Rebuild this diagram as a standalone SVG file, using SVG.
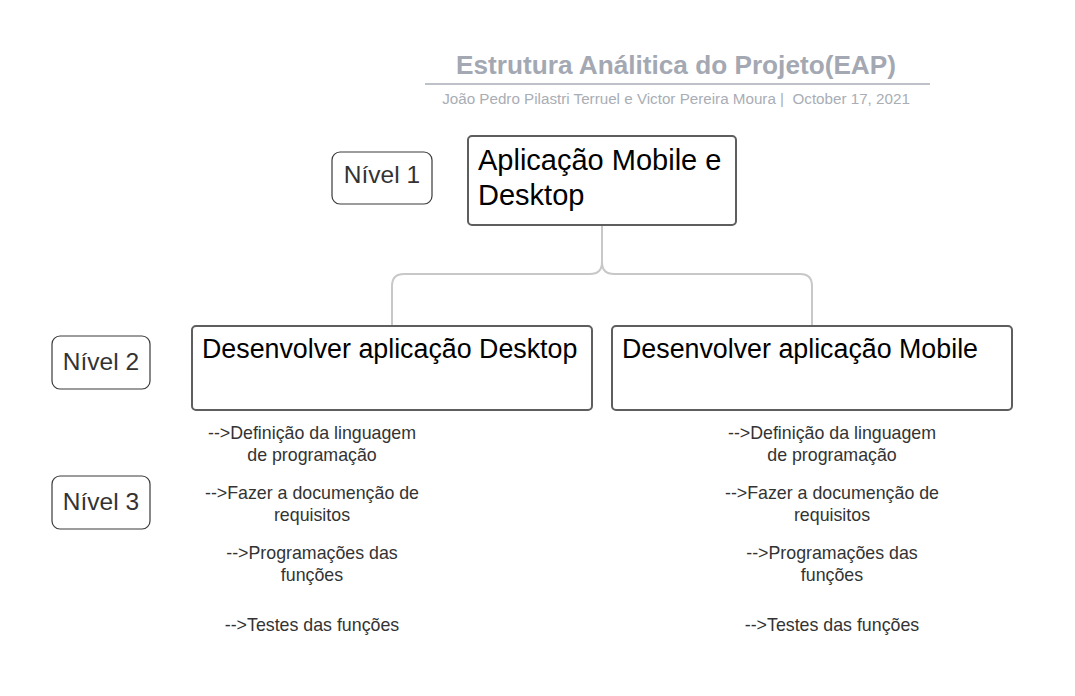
<svg xmlns="http://www.w3.org/2000/svg" width="1075" height="696" viewBox="0 0 1075 696">
<style>
text{font-family:"Liberation Sans",Arial,sans-serif}
.lvl{fill:#fff;stroke:#3a3a3a;stroke-width:1.2}
.lvlt{font-size:24.5px;fill:#333;text-anchor:middle}
.box{fill:#fff;stroke:#5e5e5e;stroke-width:2}
.boxt{font-size:29px;fill:#000}
.box2t{font-size:26.8px;fill:#000}
.item{font-size:17.8px;fill:#333;text-anchor:middle}
.conn{fill:none;stroke:#c8c8c8;stroke-width:2}
</style>
<rect width="1075" height="696" fill="#fff"/>
<g id="header">
<text x="676" y="74" font-size="26.2" font-weight="bold" fill="#a3a8b2" text-anchor="middle">Estrutura Análitica do Projeto(EAP)</text>
<line x1="425" y1="84" x2="930" y2="84" stroke="#a9adb5" stroke-width="1.5"/>
<text x="676" y="104" font-size="15.2" fill="#a9adb5" text-anchor="middle">João Pedro Pilastri Terruel e Victor Pereira Moura |&#160; October 17, 2021</text>
</g>
<g id="connectors">
<path class="conn" d="M602 226 V262 Q602 274 590 274 H404 Q392 274 392 286 V326"/>
<path class="conn" d="M602 262 Q602 274 614 274 H800 Q812 274 812 286 V326"/>
</g>
<g id="nivel1">
<rect class="lvl" x="332" y="152" width="100" height="52" rx="8"/>
<text class="lvlt" x="382" y="183">Nível 1</text>
</g>
<g id="nivel2">
<rect class="lvl" x="52" y="336" width="98" height="53" rx="8"/>
<text class="lvlt" x="101" y="370">Nível 2</text>
</g>
<g id="nivel3">
<rect class="lvl" x="52" y="476" width="98" height="53" rx="8"/>
<text class="lvlt" x="101" y="510">Nível 3</text>
</g>
<g id="root">
<rect class="box" x="468" y="136" width="268" height="89" rx="4"/>
<text class="boxt" x="478" y="170">Aplicação Mobile e</text>
<text class="boxt" x="478" y="205">Desktop</text>
</g>
<g id="desktop">
<rect class="box" x="192" y="326" width="400" height="84" rx="4"/>
<text class="box2t" x="202" y="358">Desenvolver aplicação Desktop</text>
</g>
<g id="mobile">
<rect class="box" x="612" y="326" width="400" height="84" rx="4"/>
<text class="box2t" x="622" y="358">Desenvolver aplicação Mobile</text>
</g>
<g id="desktop-tasks">
<text class="item" x="312" y="439">--&gt;Definição da linguagem</text>
<text class="item" x="312" y="461">de programação</text>
<text class="item" x="312" y="499">--&gt;Fazer a documenção de</text>
<text class="item" x="312" y="521">requisitos</text>
<text class="item" x="312" y="559">--&gt;Programações das</text>
<text class="item" x="312" y="581">funções</text>
<text class="item" x="312" y="631">--&gt;Testes das funções</text>
</g>
<g id="mobile-tasks">
<text class="item" x="832" y="439">--&gt;Definição da linguagem</text>
<text class="item" x="832" y="461">de programação</text>
<text class="item" x="832" y="499">--&gt;Fazer a documenção de</text>
<text class="item" x="832" y="521">requisitos</text>
<text class="item" x="832" y="559">--&gt;Programações das</text>
<text class="item" x="832" y="581">funções</text>
<text class="item" x="832" y="631">--&gt;Testes das funções</text>
</g>
</svg>
